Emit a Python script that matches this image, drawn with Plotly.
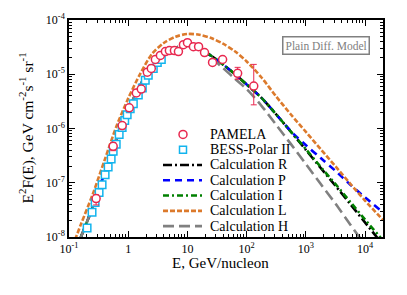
import plotly.graph_objects as go

# ---------------- data ----------------
E_model = [0.126, 0.158, 0.251, 0.398, 0.631, 1.0, 1.585, 2.512, 3.981, 6.31, 10.0, 15.85,
           25.12, 39.81, 63.1, 100, 177.8, 316.2, 562.3, 1000, 1778, 3162, 5623, 10000, 20000]

calc_R = [5.2e-9, 9.8e-9, 3.54e-8, 1.50e-7, 6.34e-7, 2.21e-6, 6.21e-6, 1.38e-5, 2.34e-5, 3.07e-5,
          3.37e-5, 2.96e-5, 2.19e-5, 1.51e-5, 1.01e-5, 6.47e-6, 3.67e-6, 1.81e-6, 8.61e-7,
          4.02e-7, 1.87e-7, 8.75e-8, 4.03e-8, 1.84e-8, 7.16e-9]
calc_P = [5.2e-9, 9.8e-9, 3.54e-8, 1.50e-7, 6.34e-7, 2.21e-6, 6.21e-6, 1.38e-5, 2.34e-5, 3.07e-5,
          3.37e-5, 2.96e-5, 2.19e-5, 1.51e-5, 1.01e-5, 6.47e-6, 3.67e-6, 1.81e-6, 8.81e-7,
          4.91e-7, 2.85e-7, 1.65e-7, 9.2e-8, 5.33e-8, 2.85e-8]
calc_I = [5.2e-9, 9.8e-9, 3.54e-8, 1.50e-7, 6.34e-7, 2.21e-6, 6.21e-6, 1.38e-5, 2.34e-5, 3.07e-5,
          3.37e-5, 2.96e-5, 2.19e-5, 1.51e-5, 1.01e-5, 6.47e-6, 3.67e-6, 1.81e-6, 8.61e-7,
          4.15e-7, 1.95e-7, 9.4e-8, 4.42e-8, 2.08e-8, 8.63e-9]
calc_L = [8.8e-9, 1.69e-8, 6.10e-8, 2.59e-7, 1.09e-6, 3.59e-6, 1.01e-5, 2.36e-5, 3.76e-5, 4.93e-5,
          5.52e-5, 5.36e-5, 4.65e-5, 3.66e-5, 2.65e-5, 1.72e-5, 8.71e-6, 3.86e-6, 1.79e-6,
          8.63e-7, 4.15e-7, 2.0e-7, 9.55e-8, 4.65e-8, 2.07e-8]
calc_H = [5.2e-9, 9.8e-9, 3.54e-8, 1.50e-7, 6.34e-7, 2.21e-6, 6.21e-6, 1.38e-5, 2.34e-5, 3.07e-5,
          3.40e-5, 2.96e-5, 2.03e-5, 1.30e-5, 8.28e-6, 5.31e-6, 2.62e-6, 1.16e-6, 5.09e-7,
          2.20e-7, 9.46e-8, 4.10e-8, 1.69e-8, 7.08e-9, 2.5e-9]

pamela_E = [0.287, 0.557, 0.79, 1.04, 1.37, 1.66, 2.1, 2.45, 2.87, 3.49, 4.24, 4.95, 6.02, 7.04,
            8.55, 10.0, 12.6, 15.4, 19.4, 26.5, 39.2, 70.3, 131.5]
pamela_F = [5.1e-8, 4.7e-7, 1.13e-6, 2.41e-6, 4.52e-6, 5.34e-6, 1.09e-5, 1.28e-5, 1.87e-5, 2.22e-5,
            2.62e-5, 2.73e-5, 2.73e-5, 2.62e-5, 3.51e-5, 3.82e-5, 3.23e-5, 3.23e-5, 2.51e-5,
            1.65e-5, 1.87e-5, 1.04e-5, 6.05e-6]
pamela_err_up = [9e-9, 8e-8, 1.5e-7, 2.4e-7, 4.5e-7, 5.0e-7, 1.0e-6, 1.2e-6, 1.7e-6, 2.0e-6,
                 2.4e-6, 2.5e-6, 2.5e-6, 2.4e-6, 3.2e-6, 3.5e-6, 3.0e-6, 3.0e-6, 2.5e-6,
                 1.8e-6, 2.2e-6, 3.0e-6, 9.15e-6]
pamela_err_dn = [1.2e-8, 8e-8, 1.5e-7, 2.4e-7, 4.0e-7, 4.5e-7, 9.0e-7, 1.1e-6, 1.5e-6, 1.8e-6,
                 2.2e-6, 2.3e-6, 2.3e-6, 2.2e-6, 2.9e-6, 3.2e-6, 2.8e-6, 2.8e-6, 2.3e-6,
                 1.6e-6, 2.0e-6, 2.3e-6, 3.32e-6]

bess_E = [0.202, 0.245, 0.276, 0.322, 0.362, 0.407, 0.458, 0.515, 0.557, 0.627, 0.703, 0.79,
          0.873, 0.96, 1.08, 1.22, 1.48, 1.73, 1.94, 2.18, 2.65, 3.1, 3.62]
bess_F = [1.46e-8, 2.85e-8, 4.33e-8, 6.6e-8, 9.2e-8, 1.40e-7, 1.95e-7, 2.73e-7, 3.82e-7, 5.12e-7,
          7.78e-7, 1.04e-6, 1.40e-6, 1.80e-6, 2.31e-6, 2.85e-6, 4.15e-6, 5.56e-6, 7.78e-6, 9.6e-6,
          1.28e-5, 1.65e-5, 1.87e-5]

x_tickvals = [0.1, 1, 10, 100, 1000, 10000]
x_ticktext = ["10<sup>-1</sup>", "1", "10", "10<sup>2</sup>", "10<sup>3</sup>", "10<sup>4</sup>"]
y_tickvals = [1e-8, 1e-7, 1e-6, 1e-5, 1e-4]
y_ticktext = ["10<sup>-8</sup>", "10<sup>-7</sup>", "10<sup>-6</sup>", "10<sup>-5</sup>", "10<sup>-4</sup>"]

# ---------------- layout helpers ----------------
W, H = 407, 295
ML, MR, MT, MB = 69, 24, 17, 58
PW = W - ML - MR
PH = H - MT - MB


def px_x(px):
    return (px - ML) / PW


def px_y(py):
    return (H - MB - py) / PH


FONT = "Liberation Serif"
RED = "#e8284f"
CYAN = "#12b4ee"

curves = [
    ("Calculation R", calc_R, "#000000", "9px,3px,2px,3px"),
    ("Calculation P", calc_P, "#0000ff", "7px,5px"),
    ("Calculation I", calc_I, "#008000", "6px,3px,2px,3px"),
    ("Calculation L", calc_L, "#dc7a2c", "5px,2px"),
    ("Calculation H", calc_H, "#808080", "11px,5px"),
]

fig = go.Figure()
for name, vals, col, dash in curves:
    fig.add_trace(go.Scatter(x=E_model, y=vals, mode="lines", name=name, showlegend=False,
                             hoverinfo="skip",
                             line=dict(color=col, width=2.6, dash=dash, shape="spline", smoothing=0.8)))

fig.add_trace(go.Scatter(x=bess_E, y=bess_F, mode="markers", name="BESS-Polar II", showlegend=False,
                         marker=dict(symbol="square", size=7.5, color="white",
                                     line=dict(color=CYAN, width=1.5))))
fig.add_trace(go.Scatter(x=pamela_E, y=pamela_F, mode="markers", name="PAMELA", showlegend=False,
                         error_y=dict(type="data", symmetric=False, array=pamela_err_up,
                                      arrayminus=pamela_err_dn, color=RED, thickness=1, width=3),
                         marker=dict(symbol="circle", size=8, color="white",
                                     line=dict(color=RED, width=1.5))))

x_minor = [k * 10.0 ** n for n in range(-1, 5) for k in range(2, 10)]
y_minor = [k * 10.0 ** n for n in range(-8, -4) for k in range(2, 10)]

axis_common = dict(type="log", showline=True, linecolor="black", linewidth=1.5, mirror="ticks",
                   ticks="inside", ticklen=6, tickwidth=1, tickcolor="black", showgrid=False,
                   zeroline=False, tickmode="array",
                   tickfont=dict(family=FONT, size=12, color="black"))

fig.update_xaxes(range=[-1, 4.301], tickvals=x_tickvals, ticktext=x_ticktext,
                 minor=dict(ticks="inside", ticklen=3, tickcolor="black", tickmode="array",
                            tickvals=x_minor, showgrid=False),
                 **axis_common)
fig.update_yaxes(range=[-8, -4], tickvals=y_tickvals, ticktext=y_ticktext,
                 minor=dict(ticks="inside", ticklen=3, tickcolor="black", tickmode="array",
                            tickvals=y_minor, showgrid=False),
                 **axis_common)

annotations = [
    dict(text="E<sup>2</sup>F(E), GeV cm<sup>-2</sup>s<sup>-1</sup> sr<sup>-1</sup>",
         xref="paper", yref="paper", x=px_x(27), y=px_y(127), textangle=-90, showarrow=False,
         xanchor="center", yanchor="middle", font=dict(family=FONT, size=15.5, color="black")),
    dict(text="E, GeV/nucleon", xref="paper", yref="paper", x=px_x(220.5), y=px_y(263),
         showarrow=False, xanchor="center", yanchor="middle",
         font=dict(family=FONT, size=15, color="black")),
    dict(text="Plain Diff. Model", xref="paper", yref="paper", x=px_x(325.5), y=px_y(42.5),
         showarrow=False, xanchor="center", yanchor="middle", bgcolor="white",
         bordercolor="#808080", borderwidth=1.5, borderpad=2,
         font=dict(family=FONT, size=11.5, color="#808080")),
]

# ---------------- hand-built legend ----------------
legend_rows = [133, 148.5, 164, 179.5, 195, 210.5, 226]
legend_names = ["PAMELA", "BESS-Polar II"] + [c[0] for c in curves]
shapes = []
for i, (row, name) in enumerate(zip(legend_rows, legend_names)):
    annotations.append(dict(text=name, xref="paper", yref="paper", x=px_x(208), y=px_y(row),
                            showarrow=False, xanchor="left", yanchor="middle",
                            font=dict(family=FONT, size=14, color="black")))
    if i == 0:
        shapes.append(dict(type="circle", xref="paper", yref="paper", xsizemode="pixel",
                           ysizemode="pixel", xanchor=px_x(183), yanchor=px_y(row),
                           x0=-4, x1=4, y0=-4, y1=4, fillcolor="white",
                           line=dict(color=RED, width=1.5)))
    elif i == 1:
        shapes.append(dict(type="rect", xref="paper", yref="paper", xsizemode="pixel",
                           ysizemode="pixel", xanchor=px_x(183), yanchor=px_y(row),
                           x0=-3.5, x1=3.5, y0=-3.5, y1=3.5, fillcolor="white",
                           line=dict(color=CYAN, width=1.5)))
    else:
        _, _, col, dash = curves[i - 2]
        shapes.append(dict(type="line", xref="paper", yref="paper", x0=px_x(163), x1=px_x(202),
                           y0=px_y(row), y1=px_y(row), line=dict(color=col, width=2.6, dash=dash)))

fig.update_layout(width=W, height=H, autosize=False,
                  margin=dict(l=ML, r=MR, t=MT, b=MB, pad=0),
                  paper_bgcolor="white", plot_bgcolor="white",
                  showlegend=False, annotations=annotations, shapes=shapes,
                  font=dict(family=FONT, color="black"))

fig.write_html("out.html", config={"displayModeBar": False},
               post_script="document.body.style.margin='0';document.body.style.padding='0';")
